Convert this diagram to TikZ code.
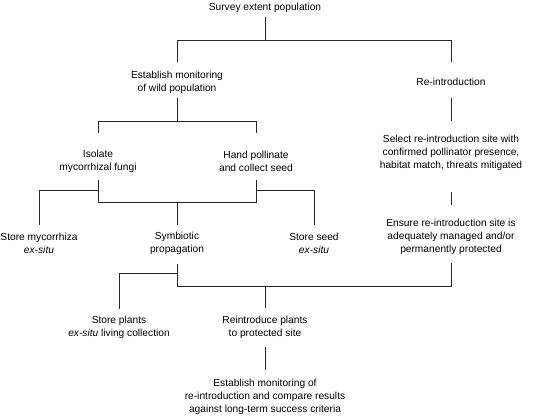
\documentclass[tikz,border=0pt]{standalone}
\usepackage{fontspec}
\setmainfont{Liberation Sans}
\begin{document}
\begin{tikzpicture}[x=1pt,y=-1pt,
  lbl/.style={align=center,inner sep=0pt,font=\fontsize{10.2}{13}\selectfont},
  link/.style={line width=0.9pt,draw=black!85}]
\useasboundingbox (0,0) rectangle (559,416);
% nodes
\node[lbl] (survey) at (265,7.5) {Survey extent population};
\node[lbl] (estab) at (177,82) {Establish monitoring\\of wild population};
\node[lbl] (reintro) at (451,81.5) {Re-introduction};
\node[lbl] (isolate) at (98,161.5) {Isolate\\mycorrhizal fungi};
\node[lbl] (hand) at (256,161.5) {Hand pollinate\\and collect seed};
\node[lbl] (select) at (451,152.5) {Select re-introduction site with\\confirmed pollinator presence,\\habitat match, threats mitigated};
\node[lbl] (storemyc) at (39,243.5) {Store mycorrhiza\\\textit{ex-situ}};
\node[lbl] (symb) at (177,243.5) {Symbiotic\\propagation};
\node[lbl] (storeseed) at (314,243.5) {Store seed\\\textit{ex-situ}};
\node[lbl] (ensure) at (451,236.5) {Ensure re-introduction site is\\adequately managed and/or\\permanently protected};
\node[lbl] (storeplants) at (119,327.5) {Store plants\\\textit{ex-situ} living collection};
\node[lbl] (reintroduce) at (265,327.5) {Reintroduce plants\\to protected site};
\node[lbl] (monitor) at (265,396.5) {Establish monitoring of\\re-introduction and compare results\\against long-term success criteria};
% connectors
\draw[link] (survey |- 0,17) -- (survey |- 0,40);
\draw[link] (estab |- 0,62) -- (estab |- 0,40) -- (reintro |- 0,40) -- (reintro |- 0,62);
\draw[link] (estab |- 0,98) -- (estab |- 0,121);
\draw[link] (isolate |- 0,133) -- (isolate |- 0,121) -- (hand |- 0,121) -- (hand |- 0,133);
\draw[link] (reintro |- 0,98) -- (select |- 0,121);
\draw[link] (isolate |- 0,180) -- (isolate |- 0,202) -- (hand |- 0,202) -- (hand |- 0,180);
\draw[link] (symb |- 0,202) -- (symb |- 0,225);
\draw[link] (isolate |- 0,190) -- (storemyc |- 0,190) -- (storemyc |- 0,225);
\draw[link] (hand |- 0,190) -- (storeseed |- 0,190) -- (storeseed |- 0,225);
\draw[link] (select |- 0,192) -- (ensure |- 0,205);
\draw[link] (symb |- 0,264) -- (symb |- 0,286) -- (ensure |- 0,286) -- (ensure |- 0,263);
\draw[link] (symb |- 0,273) -- (storeplants |- 0,273) -- (storeplants |- 0,309);
\draw[link] (reintroduce |- 0,286) -- (reintroduce |- 0,308);
\draw[link] (reintroduce |- 0,347) -- (monitor |- 0,370);
\end{tikzpicture}
\end{document}
